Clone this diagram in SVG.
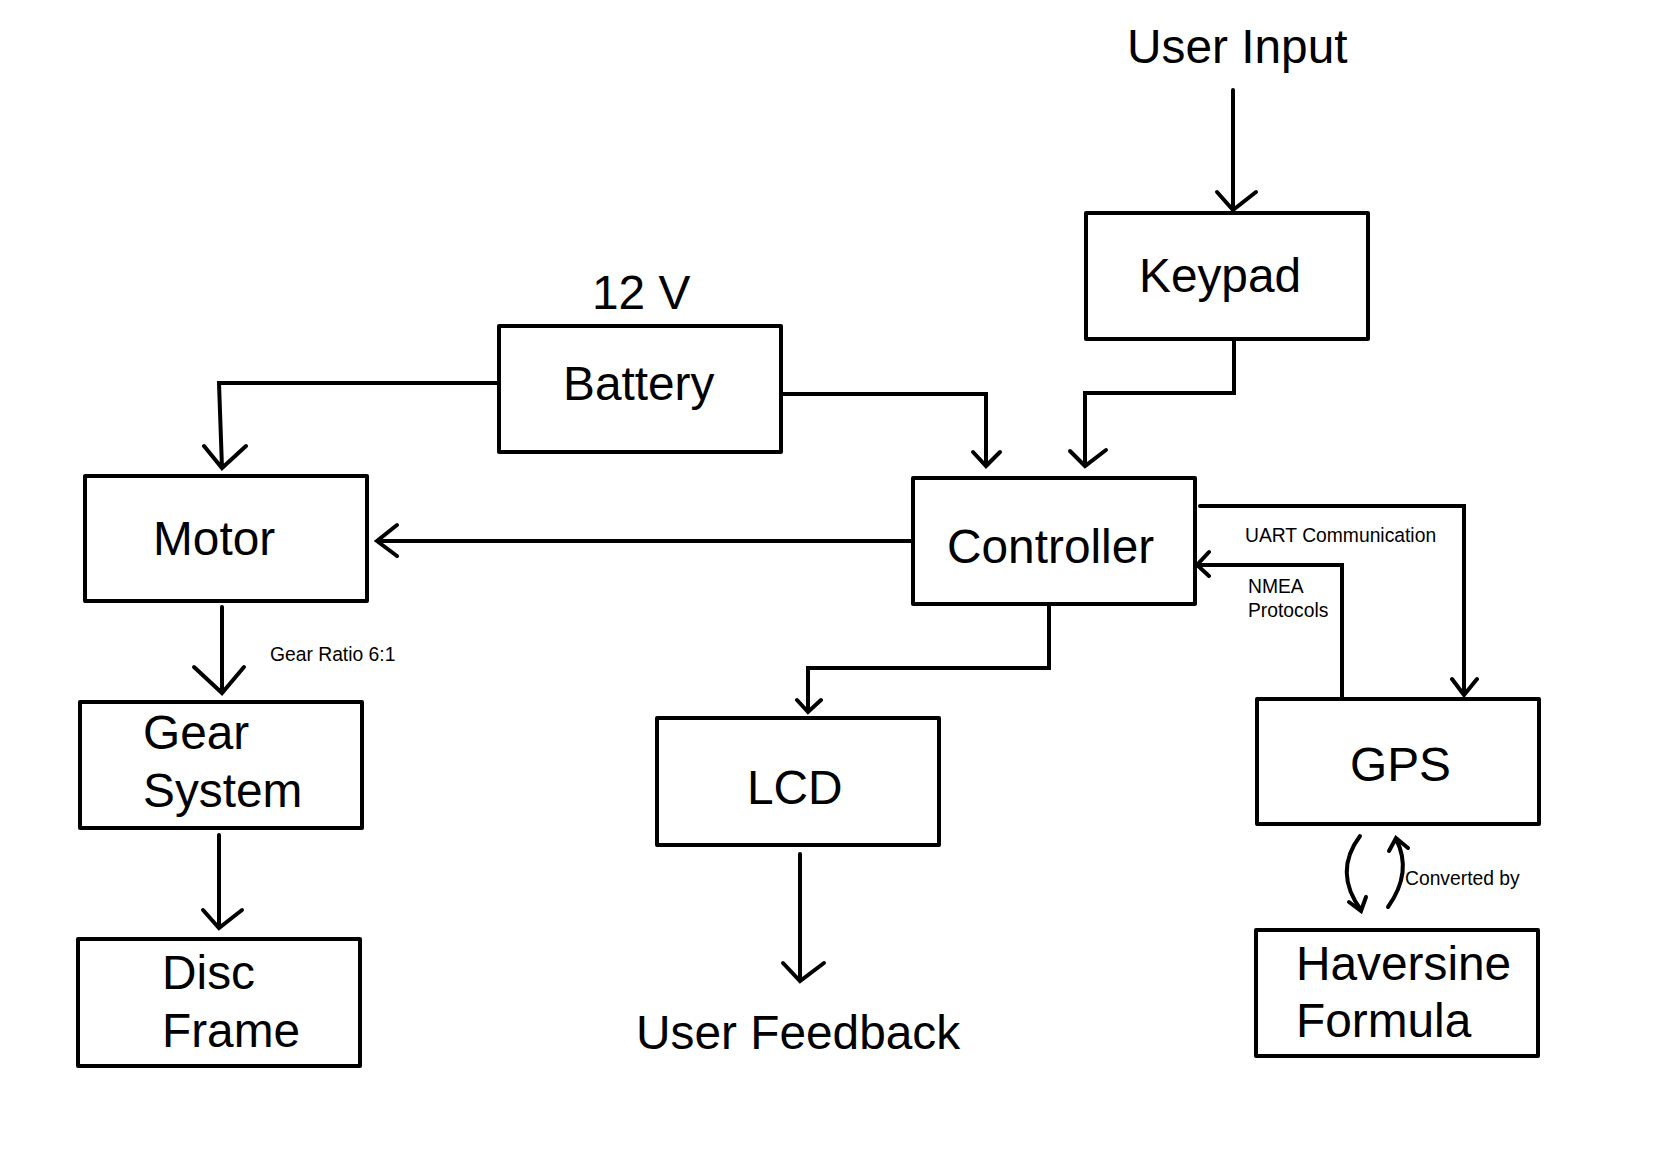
<svg xmlns="http://www.w3.org/2000/svg" width="1668" height="1156" viewBox="0 0 1668 1156">
<style>
.box{fill:#fff;stroke:#000;stroke-width:4;stroke-linejoin:round}
.ln{fill:none;stroke:#000;stroke-width:4;stroke-linejoin:miter;stroke-linecap:round}
.big{font-family:"Liberation Sans",Arial,Helvetica,sans-serif;font-size:47.8px;fill:#000}
.sm{font-family:"Liberation Sans",Arial,Helvetica,sans-serif;font-size:19.3px;fill:#000}
</style>
<rect width="1668" height="1156" fill="#fff"/>
<g id="connectors">
  <!-- User Input -> Keypad -->
  <path class="ln" d="M1233 90 V210 M1217 192 L1233 210 L1256 192"/>
  <!-- Keypad -> Controller -->
  <path class="ln" d="M1234 339 V393 H1085 V466 M1070 451 L1085 466 L1106 450"/>
  <!-- Battery -> Controller -->
  <path class="ln" d="M781 394 H986 V466 M973 452 L986 466 L1000 452"/>
  <!-- Battery -> Motor -->
  <path class="ln" d="M499 383 H219 L222 468 M204 446 L222 468 L246 446"/>
  <!-- Controller -> Motor -->
  <path class="ln" d="M913 541 H377 M397 525 L377 541 L397 556"/>
  <!-- Motor -> Gear -->
  <path class="ln" d="M222 607 V693 M194 667 L222 693 L244 667"/>
  <!-- Gear -> Disc -->
  <path class="ln" d="M219 835 V928 M203 910 L219 928 L242 910"/>
  <!-- Controller -> LCD -->
  <path class="ln" d="M1049 604 V668 H808 V712 M797 700 L808 712 L821 700"/>
  <!-- LCD -> User Feedback -->
  <path class="ln" d="M800 854 V981 M783 963 L800 981 L824 963"/>
  <!-- Controller -> GPS (UART) -->
  <path class="ln" d="M1200 506 H1464 V695 M1452 679 L1464 695 L1477 679"/>
  <!-- GPS -> Controller (NMEA) -->
  <path class="ln" d="M1342 699 V565 H1197 M1209 552 L1197 565 L1209 576"/>
  <!-- GPS <-> Haversine curved -->
  <path class="ln" d="M1360 836 Q1333 872 1361 910 M1349 902 L1361 911 L1366 897"/>
  <path class="ln" d="M1388 907 Q1413 872 1396 839 M1389 851 L1396 838 L1408 848"/>
</g>
<g id="keypad"><rect class="box" x="1086" y="213" width="282" height="126"/><text class="big" x="1139" y="292">Keypad</text></g>
<g id="battery"><rect class="box" x="499" y="326" width="282" height="126"/><text class="big" x="563" y="400">Battery</text></g>
<g id="motor"><rect class="box" x="85" y="476" width="282" height="125"/><text class="big" x="153" y="555">Motor</text></g>
<g id="controller"><rect class="box" x="913" y="478" width="282" height="126"/><text class="big" x="947" y="563">Controller</text></g>
<g id="gear"><rect class="box" x="80" y="702" width="282" height="126"/><text class="big" x="143" y="749">Gear</text><text class="big" x="143" y="807">System</text></g>
<g id="disc"><rect class="box" x="78" y="939" width="282" height="127"/><text class="big" x="162" y="989">Disc</text><text class="big" x="162" y="1047">Frame</text></g>
<g id="lcd"><rect class="box" x="657" y="718" width="282" height="127"/><text class="big" x="747" y="804">LCD</text></g>
<g id="gps"><rect class="box" x="1257" y="699" width="282" height="125"/><text class="big" x="1350" y="781">GPS</text></g>
<g id="haversine"><rect class="box" x="1256" y="930" width="282" height="126"/><text class="big" x="1296" y="980">Haversine</text><text class="big" x="1296" y="1037">Formula</text></g>
<g id="labels">
  <text class="big" x="1127" y="63">User Input</text>
  <text class="big" x="592" y="309">12 V</text>
  <text class="big" x="636" y="1049">User Feedback</text>
  <text class="sm" x="270" y="661">Gear Ratio 6:1</text>
  <text class="sm" x="1245" y="542">UART Communication</text>
  <text class="sm" x="1248" y="593">NMEA</text>
  <text class="sm" x="1248" y="617">Protocols</text>
  <text class="sm" x="1405" y="885">Converted by</text>
</g>
</svg>
